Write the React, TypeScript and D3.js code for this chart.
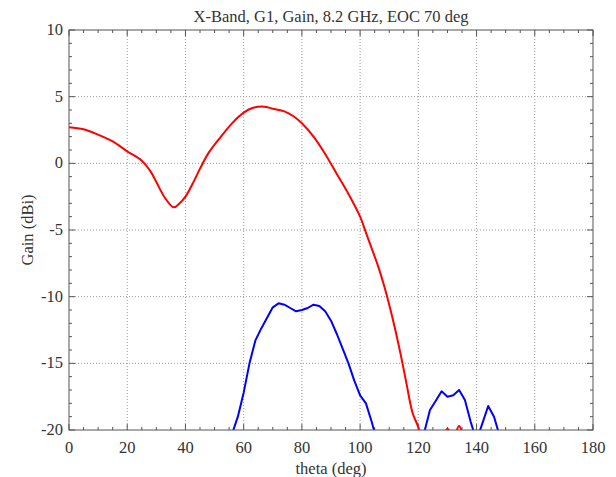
import React from "react";
import * as d3 from "d3";

const TITLE = "X-Band, G1, Gain, 8.2 GHz, EOC 70 deg";
const X_LABEL = "theta (deg)";
const Y_LABEL = "Gain (dBi)";
const X_TICKS = [0, 20, 40, 60, 80, 100, 120, 140, 160, 180];
const Y_TICKS = [-20, -15, -10, -5, 0, 5, 10];

const redTheta = [0, 5, 10, 15, 20, 25, 28, 30, 33, 36, 38, 40, 43, 45, 48, 52, 56, 60, 63, 67, 70, 74, 77, 80, 84, 88, 92, 96, 100, 102, 104, 106, 108, 110, 112, 114, 116, 118, 120, 122, 125, 128, 130, 132, 134, 136, 140];
const redGain = [2.7, 2.55, 2.15, 1.65, 0.9, 0.2, -0.6, -1.4, -2.6, -3.3, -3.0, -2.5, -1.3, -0.4, 0.8, 1.95, 3.0, 3.8, 4.15, 4.25, 4.1, 3.9, 3.55, 3.0, 2.0, 0.7, -0.8, -2.3, -4.0, -5.2, -6.4, -7.6, -9.0, -10.6, -12.4, -14.4, -16.6, -18.7, -19.8, -21.5, -22, -21, -19.9, -20.6, -19.7, -21, -24];

const blueTheta = [52, 54, 56, 58, 60, 62, 64, 66, 68, 70, 72, 74, 76, 78, 80, 82, 84, 86, 88, 90, 92, 94, 96, 98, 100, 102, 104, 106, 110, 116, 120, 122, 124, 126, 128, 130, 132, 134, 136, 138, 140, 142, 144, 146, 148, 150, 154];
const blueGain = [-25, -22, -20.3, -19.0, -17.2, -15.0, -13.3, -12.4, -11.6, -10.8, -10.5, -10.6, -10.85, -11.1, -11.0, -10.85, -10.6, -10.7, -11.1, -11.8, -12.8, -13.9, -15.0, -16.3, -17.4, -18.0, -19.4, -21, -23, -24, -23, -20.2, -18.5, -17.8, -17.1, -17.5, -17.4, -17.0, -17.75, -19.4, -20.8, -19.5, -18.2, -19.0, -20.5, -23, -25];

const W = 616, H = 477;
const L = 69, R = 593, T = 30, B = 430;
const FONT = "'Liberation Serif', 'DejaVu Serif', serif";
const FS = 16.5;

export default function App() {
  const x = d3.scaleLinear().domain([0, 180]).range([L, R]);
  const y = d3.scaleLinear().domain([-20, 10]).range([B, T]);
  const line = d3.line<[number, number]>().x(d => x(d[0])).y(d => y(d[1])).curve(d3.curveCatmullRom.alpha(0.5));
  const blueLine = d3.line<[number, number]>().x(d => x(d[0])).y(d => y(d[1]));
  const red = line(redTheta.map((t, i) => [t, redGain[i]] as [number, number])) || "";
  const blue = blueLine(blueTheta.map((t, i) => [t, blueGain[i]] as [number, number])) || "";
  const xMinor = d3.range(0, 181, 5);
  const yMinor = d3.range(-20, 11, 1);
  const frame = "#555";
  const txt = "#333";
  return (
    <svg width={W} height={H} style={{ display: "block", position: "absolute", left: 0, top: 0 }}>
      <rect width={W} height={H} fill="#fff" />
      <defs>
        <clipPath id="plotclip">
          <rect x={L} y={T} width={R - L} height={B - T} />
        </clipPath>
      </defs>
      {X_TICKS.slice(1, -1).map(t => (
        <line key={"gx" + t} x1={x(t)} x2={x(t)} y1={T} y2={B} stroke="#999" strokeWidth={1} strokeDasharray="1,2" />
      ))}
      {Y_TICKS.slice(1, -1).map(t => (
        <line key={"gy" + t} x1={L} x2={R} y1={y(t)} y2={y(t)} stroke="#999" strokeWidth={1} strokeDasharray="1,2" />
      ))}
      {xMinor.map(t => (
        <g key={"mx" + t}>
          <line x1={x(t)} x2={x(t)} y1={B} y2={B - (t % 20 === 0 ? 6 : 3)} stroke={frame} />
          <line x1={x(t)} x2={x(t)} y1={T} y2={T + (t % 20 === 0 ? 6 : 3)} stroke={frame} />
        </g>
      ))}
      {yMinor.map(t => (
        <g key={"my" + t}>
          <line x1={L} x2={L + (t % 5 === 0 ? 6 : 3)} y1={y(t)} y2={y(t)} stroke={frame} />
          <line x1={R} x2={R - (t % 5 === 0 ? 6 : 3)} y1={y(t)} y2={y(t)} stroke={frame} />
        </g>
      ))}
      <g clipPath="url(#plotclip)">
        <path d={blue} fill="none" stroke="#0000ff" strokeWidth={2} strokeLinejoin="round" />
        <path d={red} fill="none" stroke="#ff0000" strokeWidth={2} strokeLinejoin="round" />
      </g>
      <rect x={L} y={T} width={R - L} height={B - T} fill="none" stroke={frame} strokeWidth={1} />
      {X_TICKS.map(t => (
        <text key={"tx" + t} x={x(t)} y={B + 23} textAnchor="middle" fontFamily={FONT} fontSize={FS} fill={txt}>{t}</text>
      ))}
      {Y_TICKS.map(t => (
        <text key={"ty" + t} x={L - 6} y={y(t) + 5} textAnchor="end" fontFamily={FONT} fontSize={FS} fill={txt}>{t}</text>
      ))}
      <text x={(L + R) / 2} y={T - 8} textAnchor="middle" fontFamily={FONT} fontSize={FS} fill={txt}>{TITLE}</text>
      <text x={(L + R) / 2} y={B + 44} textAnchor="middle" fontFamily={FONT} fontSize={FS} fill={txt}>{X_LABEL}</text>
      <text transform={`translate(33, ${(T + B) / 2}) rotate(-90)`} textAnchor="middle" fontFamily={FONT} fontSize={FS} fill={txt}>{Y_LABEL}</text>
    </svg>
  );
}
